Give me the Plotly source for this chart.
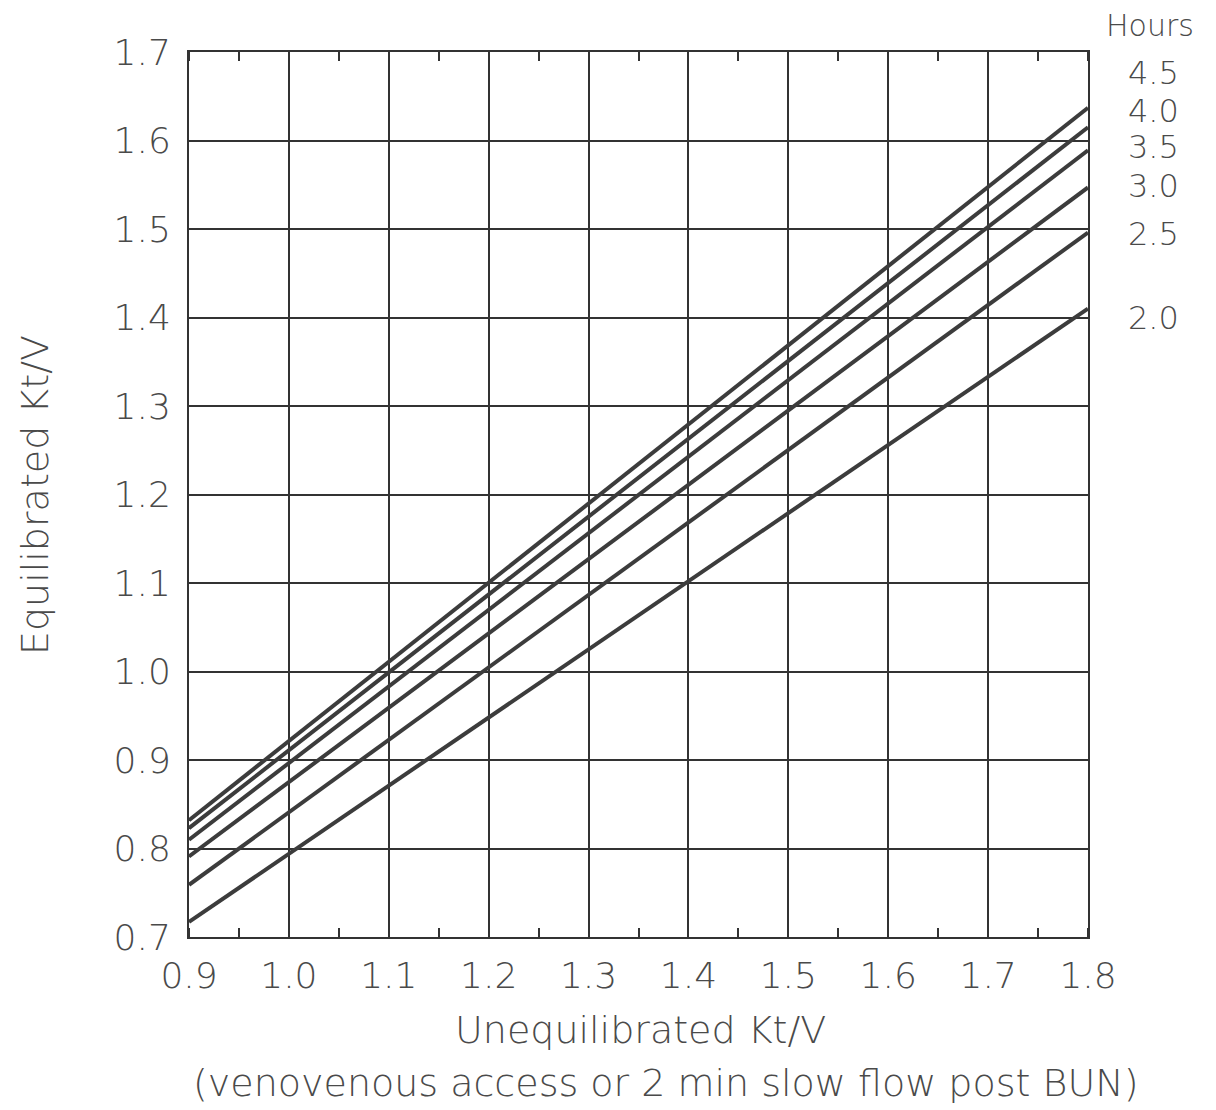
import plotly.graph_objects as go

# ---- data ----
hours = ["4.5", "4.0", "3.5", "3.0", "2.5", "2.0"]
sp_ktv = [0.9, 1.8]                      # unequilibrated Kt/V at the two ends of each line
e_ktv_start = [0.832, 0.823, 0.810, 0.791, 0.759, 0.717]   # eKt/V at 0.9
e_ktv_end = [1.637, 1.615, 1.589, 1.547, 1.496, 1.410]     # eKt/V at 1.8
label_y = [1.676, 1.633, 1.593, 1.549, 1.494, 1.399]       # label heights (layout)

x_ticks = [0.9, 1.0, 1.1, 1.2, 1.3, 1.4, 1.5, 1.6, 1.7, 1.8]
y_ticks = [0.7, 0.8, 0.9, 1.0, 1.1, 1.2, 1.3, 1.4, 1.5, 1.6, 1.7]

FONT = "DejaVu Sans"
TXT = "#4a4a4a"
INK = "#333333"

fig = go.Figure()
for h, a, b in zip(hours, e_ktv_start, e_ktv_end):
    fig.add_trace(go.Scatter(x=sp_ktv, y=[a, b], mode="lines",
                             line=dict(color="#3c3c3c", width=4),
                             name=h, showlegend=False, hoverinfo="skip"))

# invisible trace on the top axis so it renders
fig.add_trace(go.Scatter(x=[0.9, 1.8], y=[0.7, 0.7], xaxis="x2", mode="lines",
                         line=dict(width=0), showlegend=False, hoverinfo="skip"))

axis_font = dict(family=FONT, size=36, color=TXT, weight=200)
title_font = dict(family=FONT, size=38, color=TXT, weight=200)

fig.update_layout(
    width=1216, height=1110,
    margin=dict(l=181, r=136, t=44, b=181),
    paper_bgcolor="white", plot_bgcolor="white",
    xaxis=dict(range=[0.9, 1.8], tickvals=x_ticks,
               ticktext=[f"{v:.1f}" for v in x_ticks],
               showgrid=True, gridcolor=INK, gridwidth=2,
               showline=True, linecolor=INK, linewidth=2, mirror=True,
               ticks="", tickfont=axis_font, ticklabelstandoff=6,
               zeroline=False,
               minor=dict(ticks="inside", dtick=0.05, tick0=0.9, ticklen=9,
                          tickcolor=INK, tickwidth=2, showgrid=False)),
    xaxis2=dict(range=[0.9, 1.8], overlaying="x", side="top", matches="x",
                showticklabels=False, showgrid=False, ticks="",
                tickvals=x_ticks, zeroline=False,
                minor=dict(ticks="inside", dtick=0.05, tick0=0.9, ticklen=9,
                           tickcolor=INK, tickwidth=2, showgrid=False)),
    yaxis=dict(range=[0.7, 1.7], tickvals=y_ticks,
               ticktext=[f"{v:.1f}" for v in y_ticks],
               showgrid=True, gridcolor=INK, gridwidth=2,
               showline=True, linecolor=INK, linewidth=2, mirror=True,
               ticks="", tickfont=axis_font, ticklabelstandoff=9,
               zeroline=False),
)

ann = []
ann.append(dict(text="Hours", x=1.0690, y=1.0300, xref="paper", yref="paper",
                xanchor="center", yanchor="middle", showarrow=False,
                font=dict(family=FONT, size=30, color=TXT, weight=200)))
for h, ly in zip(hours, label_y):
    ann.append(dict(text=h, x=1.0420, y=ly, xref="paper", yref="y",
                    xanchor="left", yanchor="middle", showarrow=False,
                    font=dict(family=FONT, size=32, color=TXT, weight=200)))
ann.append(dict(text="Unequilibrated Kt/V", x=0.5017, y=-0.105, xref="paper", yref="paper",
                xanchor="center", yanchor="middle", showarrow=False, font=title_font))
ann.append(dict(text="(venovenous access or 2 min slow flow post BUN)", x=0.5295, y=-0.165,
                xref="paper", yref="paper", xanchor="center", yanchor="middle",
                showarrow=False, font=title_font))
ann.append(dict(text="Equilibrated Kt/V", x=-0.1713, y=0.4994, xref="paper", yref="paper",
                xanchor="center", yanchor="middle", textangle=-90, showarrow=False,
                font=title_font))
fig.update_layout(annotations=ann)

fig.write_html("out.html")
